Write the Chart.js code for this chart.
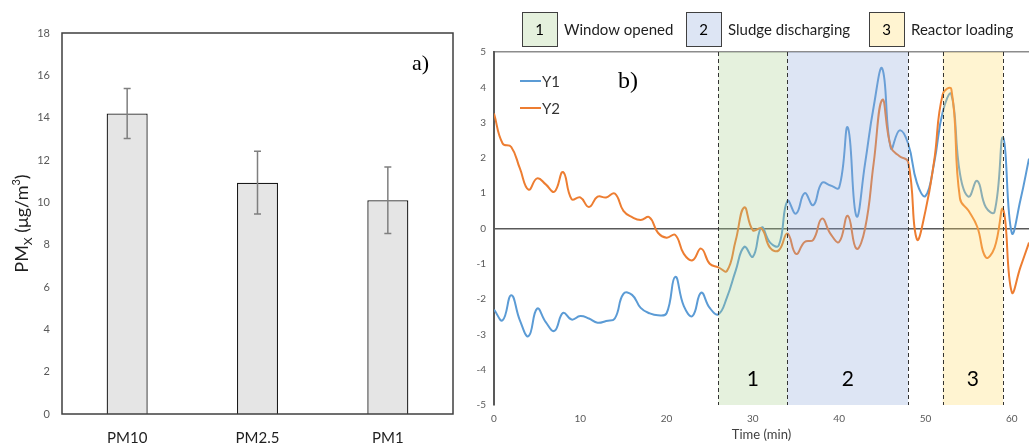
<!DOCTYPE html>
<html>
<head>
<meta charset="utf-8">
<script src="https://cdn.jsdelivr.net/npm/chart.js@4"></script>
<style>
  html, body { margin: 0; padding: 0; background: #fff; overflow: hidden; }
  #wrap { position: relative; width: 1029px; height: 443px; }
  #barCanvas { position: absolute; left: 0; top: 0; }
  #lineCanvas { position: absolute; left: 470px; top: 0; }
</style>
</head>
<body>
<div id="wrap">
  <canvas id="barCanvas" width="470" height="443"></canvas>
  <canvas id="lineCanvas" width="559" height="443"></canvas>
</div>
<script>
// --- Data: panel a) ---
const pmCategories = ['PM10', 'PM2.5', 'PM1'];
const pmMeans = [14.2, 10.93, 10.1];
const pmErrors = [1.18, 1.48, 1.57];
const pmTicks = [0, 2, 4, 6, 8, 10, 12, 14, 16, 18];

// --- Data: panel b) ---
const timeMin = [
  0, 1, 2, 3, 4, 5, 6, 7, 8, 9, 10, 11, 12, 13, 14, 15, 16, 17, 18, 19, 20,
  21, 22, 23, 24, 25, 26, 27, 28, 29, 30, 31, 32, 33, 34, 35, 36, 37, 38, 39, 40,
  41, 42, 43, 44, 45, 46, 47, 48, 49, 50, 51, 52, 53, 54, 55, 56, 57, 58, 59, 60,
  61, 62
];
const y1Values = [
  -2.30, -2.60, -1.89, -2.60, -3.05, -2.27, -2.65, -2.90, -2.39, -2.58, -2.48,
  -2.55, -2.67, -2.62, -2.55, -1.85, -1.88, -2.25, -2.40, -2.46, -2.40,
  -1.37, -2.20, -2.48, -1.82, -2.25, -2.43, -1.95, -1.20, -0.52, -0.80,
  0.03, -0.40, -0.48, 0.78, 0.42, 1.00, 0.66, 1.29, 1.22, 1.16,
  2.86, 0.35, 1.84, 3.45, 4.53, 2.27, 2.78, 2.40, 1.30, 0.92,
  1.85, 3.30, 3.80, 1.55, 0.90, 1.35, 0.60, 0.47, 2.58, -0.12,
  0.80, 1.98
];
const y2Values = [
  3.26, 2.41, 2.31, 1.70, 1.10, 1.42, 1.25, 1.04, 1.60, 0.83, 0.88,
  0.61, 0.90, 0.88, 0.99, 0.50, 0.32, 0.24, 0.32, -0.12, -0.26,
  -0.18, -0.72, -0.90, -0.57, -1.00, -1.10, -1.20, -0.35, 0.60, -0.05,
  0.00, -0.55, -0.62, -0.14, -0.72, -0.38, -0.32, 0.28, -0.15, -0.38,
  0.36, -0.57, 0.00, 1.85, 3.65, 2.30, 2.05, 1.88, -0.30, 0.50,
  1.90, 3.80, 3.95, 0.85, 0.50, 0.05, -0.82, -0.55, 0.54, -1.80,
  -1.10, -0.40
];
const timeTicks = [0, 10, 20, 30, 40, 50, 60];
const phaseStart = [26, 34, 52];
const phaseEnd = [34, 48, 59];
const phaseNumbers = ['1', '2', '3'];
const phaseNames = ['Window opened', 'Sludge discharging', 'Reactor loading'];

const FONT = 'Lato, "Open Sans", sans-serif';
const SERIF = '"Liberation Serif", "DejaVu Serif", serif';
const phaseColors = ['rgba(169, 209, 142, 0.3)', 'rgba(143, 170, 220, 0.3)', 'rgba(255, 217, 102, 0.3)'];

// --- Panel a): bar chart with error bars ---
const barDecor = {
    id: 'barDecor',
    afterDatasetsDraw(chart) {
        const { ctx, chartArea: a, scales: { y } } = chart;
        const meta = chart.getDatasetMeta(0);
        ctx.save();

        // error bars
        ctx.strokeStyle = '#7f7f7f';
        ctx.lineWidth = 1.5;
        meta.data.forEach((bar, i) => {
            const top = y.getPixelForValue(pmMeans[i] + pmErrors[i]);
            const bot = y.getPixelForValue(pmMeans[i] - pmErrors[i]);
            ctx.beginPath();
            ctx.moveTo(bar.x, top); ctx.lineTo(bar.x, bot);
            ctx.moveTo(bar.x - 3.5, top); ctx.lineTo(bar.x + 3.5, top);
            ctx.moveTo(bar.x - 3.5, bot); ctx.lineTo(bar.x + 3.5, bot);
            ctx.stroke();
        });

        // plot frame
        ctx.strokeStyle = '#3f3f3f';
        ctx.lineWidth = 1.5;
        ctx.strokeRect(a.left, a.top, a.right - a.left, a.bottom - a.top);

        // panel tag
        ctx.fillStyle = '#000';
        ctx.font = '22px ' + SERIF;
        ctx.textAlign = 'left';
        ctx.textBaseline = 'alphabetic';
        ctx.fillText('a)', a.right - 41, a.top + 37);

        // y title: PM_X (µg/m^3)
        const parts = [
            { t: 'PM', size: 18, dy: 0 },
            { t: 'X', size: 12, dy: 4 },
            { t: ' (μg/m', size: 18, dy: 0 },
            { t: '3', size: 11, dy: -8 },
            { t: ')', size: 18, dy: 0 }
        ];
        let total = 0;
        parts.forEach(p => {
            ctx.font = p.size + 'px ' + FONT;
            p.w = ctx.measureText(p.t).width;
            total += p.w;
        });
        ctx.translate(22, (a.top + a.bottom) / 2);
        ctx.rotate(-Math.PI / 2);
        ctx.fillStyle = '#1f1f1f';
        let px = -total / 2;
        parts.forEach(p => {
            ctx.font = p.size + 'px ' + FONT;
            ctx.fillText(p.t, px, 6 + p.dy);
            px += p.w;
        });
        ctx.restore();
    }
};

new Chart(document.getElementById('barCanvas'), {
    type: 'bar',
    data: {
        labels: pmCategories,
        datasets: [{
            data: pmMeans,
            backgroundColor: '#e5e5e5',
            borderColor: '#1a1a1a',
            borderWidth: 1.3,
            barPercentage: 0.315,
            categoryPercentage: 1
        }]
    },
    options: {
        responsive: false,
        animation: false,
        layout: { padding: { top: 33, right: 17, left: 0, bottom: 0 } },
        plugins: { legend: { display: false }, tooltip: { enabled: false } },
        scales: {
            x: {
                grid: { display: false, drawTicks: false },
                border: { display: false },
                ticks: { color: '#1f1f1f', font: { family: FONT, size: 15 }, padding: 15 },
                afterFit: s => { s.height = 29; }
            },
            y: {
                min: 0,
                max: 18,
                afterBuildTicks: axis => { axis.ticks = pmTicks.map(v => ({ value: v })); },
                grid: { display: false, drawTicks: false },
                border: { display: false },
                ticks: { color: '#595959', font: { family: FONT, size: 11 }, padding: 12 },
                afterFit: s => { s.width = 62; }
            }
        }
    },
    plugins: [barDecor]
});

// --- Panel b): time series with phases ---
const lineDecor = {
    id: 'lineDecor',
    afterDatasetsDraw(chart) {
        const { ctx, chartArea: a, scales: { x } } = chart;
        ctx.save();

        // phase shading over the curves
        phaseStart.forEach((s, i) => {
            const x0 = x.getPixelForValue(s);
            const x1 = x.getPixelForValue(phaseEnd[i]);
            ctx.fillStyle = phaseColors[i];
            ctx.fillRect(x0, a.top, x1 - x0, a.bottom - a.top);
        });

        // dashed boundaries
        const bounds = [...new Set([...phaseStart, ...phaseEnd])];
        ctx.strokeStyle = '#333';
        ctx.lineWidth = 1;
        ctx.setLineDash([4, 3]);
        bounds.forEach(b => {
            const bx = Math.round(x.getPixelForValue(b)) + 0.5;
            ctx.beginPath();
            ctx.moveTo(bx, a.top);
            ctx.lineTo(bx, a.bottom);
            ctx.stroke();
        });
        ctx.setLineDash([]);

        // phase numbers
        ctx.fillStyle = '#000';
        ctx.font = '21px ' + FONT;
        ctx.textAlign = 'center';
        ctx.textBaseline = 'middle';
        phaseStart.forEach((s, i) => {
            const cx = x.getPixelForValue((s + phaseEnd[i]) / 2);
            ctx.fillText(phaseNumbers[i], cx, a.bottom - 26);
        });

        // series legend inside the plot
        const series = [['Y1', '#5b9bd5'], ['Y2', '#ed7d31']];
        ctx.textAlign = 'left';
        ctx.font = '15px ' + FONT;
        series.forEach(([name, col], i) => {
            const ly = a.top + 29 + i * 27;
            ctx.strokeStyle = col;
            ctx.lineWidth = 2;
            ctx.beginPath();
            ctx.moveTo(a.left + 26, ly);
            ctx.lineTo(a.left + 47, ly);
            ctx.stroke();
            ctx.fillStyle = '#333';
            ctx.fillText(name, a.left + 48, ly + 1);
        });

        // panel tag
        ctx.fillStyle = '#000';
        ctx.font = '24px ' + SERIF;
        ctx.textBaseline = 'alphabetic';
        ctx.fillText('b)', a.left + 124, a.top + 36);

        // phase legend above the plot
        const boxX = [52, 216, 399];
        ctx.textBaseline = 'middle';
        boxX.forEach((bx, i) => {
            ctx.fillStyle = '#fff';
            ctx.fillRect(bx, 12, 35, 34);
            ctx.fillStyle = phaseColors[i];
            ctx.fillRect(bx, 12, 35, 34);
            ctx.strokeStyle = '#404040';
            ctx.lineWidth = 1;
            ctx.strokeRect(bx + 0.5, 12.5, 35, 34);
            ctx.fillStyle = '#000';
            ctx.font = '15px ' + FONT;
            ctx.textAlign = 'center';
            ctx.fillText(phaseNumbers[i], bx + 17.5, 30);
            ctx.textAlign = 'left';
            ctx.fillStyle = '#1f1f1f';
            ctx.fillText(phaseNames[i], bx + 42, 30);
        });
        ctx.restore();
    }
};

new Chart(document.getElementById('lineCanvas'), {
    type: 'line',
    data: {
        datasets: [
            {
                label: 'Y2',
                data: timeMin.map((t, i) => ({ x: t, y: y2Values[i] })),
                borderColor: '#ed7d31',
                borderWidth: 2,
                pointRadius: 0,
                tension: 0.45
            },
            {
                label: 'Y1',
                data: timeMin.map((t, i) => ({ x: t, y: y1Values[i] })),
                borderColor: '#5b9bd5',
                borderWidth: 2,
                pointRadius: 0,
                tension: 0.45
            }
        ]
    },
    options: {
        responsive: false,
        animation: false,
        layout: { padding: { top: 52, right: 0, left: 0, bottom: 0 } },
        plugins: { legend: { display: false }, tooltip: { enabled: false } },
        scales: {
            x: {
                type: 'linear',
                min: 0,
                max: 62,
                afterBuildTicks: axis => { axis.ticks = timeTicks.map(v => ({ value: v })); },
                grid: { display: false, drawTicks: false },
                border: { display: false },
                ticks: { color: '#595959', font: { family: FONT, size: 10 }, padding: 8, maxRotation: 0 },
                title: { display: true, text: 'Time (min)', color: '#404040', font: { family: FONT, size: 13 }, padding: 0 },
                afterFit: s => { s.height = 38; }
            },
            y: {
                min: -5,
                max: 5,
                grid: {
                    drawTicks: false,
                    color: c => c.tick.value === 0 ? '#595959' : (c.tick.value === 5 ? '#8c8c8c' : 'transparent'),
                    lineWidth: 1.5
                },
                border: { display: true, color: '#595959', width: 2 },
                ticks: { stepSize: 1, color: '#595959', font: { family: FONT, size: 10 }, padding: 8 },
                afterFit: s => { s.width = 24; }
            }
        }
    },
    plugins: [lineDecor]
});
</script>
</body>
</html>
